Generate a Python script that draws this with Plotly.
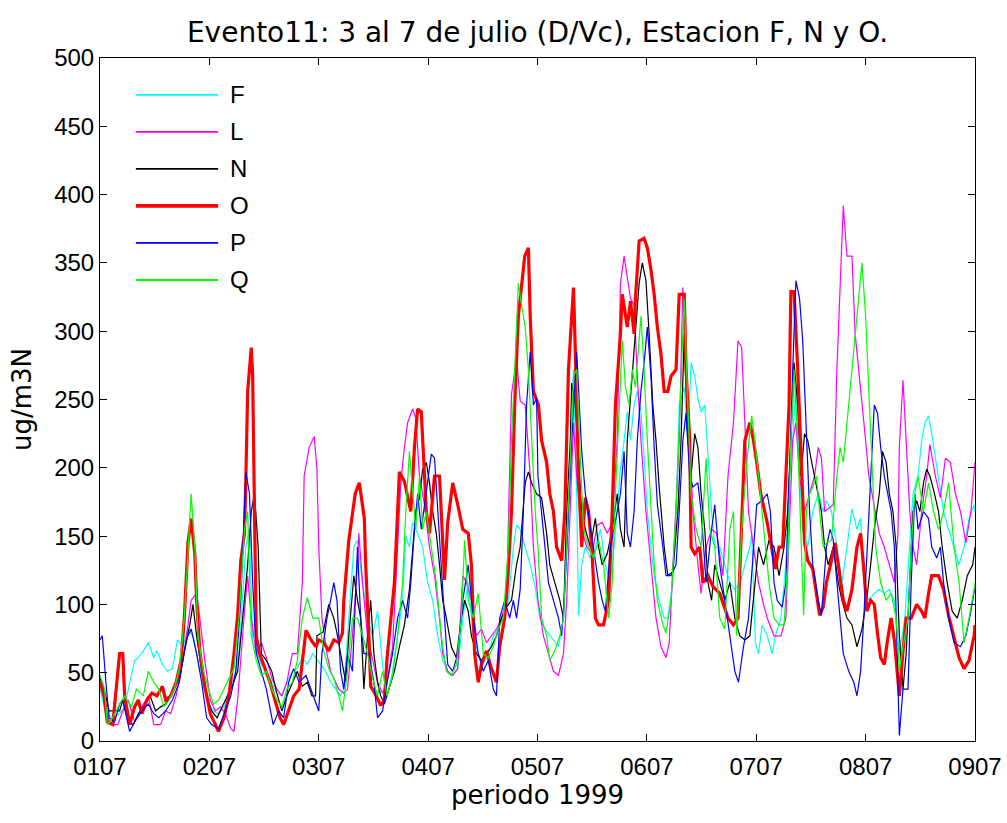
import plotly.graph_objects as go

# Hourly series for 1-9 July 1999 (x = hours since 01/07 00h)
day_ticks = [0, 24, 48, 72, 96, 120, 144, 168, 192]
day_labels = ["0107", "0207", "0307", "0407", "0507", "0607", "0707", "0807", "0907"]

f_hours = [0, 1.3, 2.8, 4.3, 5.4, 6.5, 7.6, 8.4, 9.5, 10.6, 11.8, 12.5, 13.7, 14.8, 15.9, 17.0, 18.2, 19.3, 20.4, 21.5, 22.7, 23.8, 24.9, 26.0, 27.2, 28.3, 29.4, 30.5, 31.3, 32.0, 32.8, 33.5, 34.3, 35.4, 36.5, 37.7, 38.8, 39.9, 41.0, 42.2, 43.3, 44.4, 45.5, 46.7, 48.4, 49.5, 50.6, 51.7, 52.8, 53.5, 54.6, 55.7, 56.5, 57.6, 58.7, 59.8, 60.9, 62.0, 63.0, 64.2, 65.3, 66.4, 67.1, 67.9, 68.6, 69.7, 70.8, 71.9, 73.0, 74.1, 75.2, 76.3, 77.4, 78.5, 79.6, 80.8, 81.9, 83.0, 84.1, 85.2, 86.3, 87.4, 88.5, 89.6, 90.7, 91.4, 92.2, 93.3, 94.4, 95.5, 96.5, 97.6, 98.7, 99.8, 100.6, 101.7, 102.4, 103.2, 103.9, 104.6, 105.0, 105.7, 106.5, 107.6, 108.7, 109.8, 110.9, 112.0, 112.8, 113.5, 114.2, 115.0, 115.7, 116.4, 117.2, 117.9, 118.7, 119.4, 120.1, 120.9, 121.6, 122.7, 123.8, 124.6, 125.7, 126.4, 127.1, 128.2, 129.0, 129.7, 130.5, 131.2, 131.9, 132.7, 133.4, 134.2, 134.9, 136.0, 137.1, 138.2, 139.3, 140.4, 141.5, 142.6, 143.0, 143.8, 144.5, 145.3, 146.4, 147.5, 148.2, 149.4, 150.5, 151.2, 152.0, 152.7, 153.5, 154.2, 155.3, 156.4, 157.6, 158.7, 159.4, 160.5, 161.7, 162.8, 163.9, 165.0, 166.1, 166.9, 167.6, 168.7, 169.9, 171.0, 172.1, 173.2, 174.3, 175.4, 176.6, 177.7, 178.4, 179.5, 180.3, 181.0, 181.8, 182.5, 183.3, 184.0, 185.1, 186.2, 187.4, 188.5, 189.6, 190.7, 191.8, 192.0]
f_vals = [38, 20, 17, 20, 25, 43, 59, 61, 66, 72, 61, 66, 56, 51, 53, 74, 69, 82, 77, 59, 40, 27, 22, 20, 25, 38, 46, 64, 103, 142, 155, 72, 66, 56, 51, 43, 35, 33, 43, 51, 53, 61, 56, 64, 56, 51, 43, 38, 33, 38, 90, 142, 147, 116, 90, 77, 95, 56, 33, 51, 77, 103, 150, 142, 160, 152, 142, 116, 103, 77, 59, 51, 48, 53, 90, 116, 77, 64, 56, 64, 77, 82, 90, 103, 142, 158, 155, 142, 129, 113, 90, 82, 77, 72, 69, 90, 142, 194, 272, 181, 92, 129, 142, 134, 142, 155, 129, 116, 142, 168, 199, 220, 241, 220, 246, 256, 241, 207, 168, 142, 121, 103, 90, 90, 116, 168, 246, 259, 220, 277, 267, 251, 241, 246, 207, 168, 142, 142, 129, 116, 111, 116, 129, 142, 152, 72, 64, 85, 77, 64, 77, 90, 129, 194, 220, 259, 194, 155, 142, 168, 181, 168, 176, 168, 142, 116, 142, 170, 155, 163, 116, 103, 108, 111, 108, 111, 103, 64, 90, 142, 181, 194, 220, 233, 238, 225, 207, 194, 168, 155, 142, 129, 142, 163, 173, 168]

l_hours = [0, 1.2, 2.4, 3.9, 5.0, 6.2, 7.6, 9.2, 10.6, 11.8, 13.3, 14.4, 15.5, 16.7, 17.8, 18.9, 20.0, 21.2, 21.9, 23.0, 24.2, 25.3, 26.4, 27.5, 28.7, 29.4, 30.2, 30.9, 31.7, 32.4, 33.2, 34.3, 35.4, 36.5, 37.7, 38.8, 39.9, 41.0, 42.2, 43.3, 44.4, 44.8, 45.9, 47.0, 47.6, 48.0, 48.7, 49.8, 50.6, 51.7, 52.4, 53.5, 54.3, 55.4, 56.5, 56.8, 57.6, 58.7, 59.8, 60.9, 62.0, 63.0, 64.2, 65.3, 66.0, 66.8, 67.5, 68.6, 69.3, 70.1, 71.2, 72.3, 73.4, 74.5, 75.2, 76.3, 77.4, 78.5, 79.6, 80.4, 81.5, 82.6, 83.7, 84.8, 85.9, 87.0, 88.1, 89.2, 90.3, 91.4, 92.2, 93.3, 94.4, 95.1, 96.1, 97.3, 98.4, 99.5, 100.6, 101.7, 102.4, 103.2, 103.9, 104.6, 105.7, 106.8, 108.0, 109.1, 110.2, 111.3, 112.4, 113.5, 114.2, 115.0, 115.7, 116.4, 117.2, 117.9, 118.7, 119.8, 120.9, 122.0, 123.1, 124.2, 124.9, 126.0, 127.1, 127.9, 128.6, 129.4, 130.1, 131.2, 131.9, 133.0, 134.2, 135.3, 136.7, 137.8, 139.0, 140.0, 140.8, 141.5, 142.3, 143.4, 144.5, 145.6, 146.4, 147.9, 149.4, 150.5, 151.2, 152.0, 152.7, 153.5, 154.6, 155.7, 156.8, 157.6, 158.3, 159.0, 159.8, 160.9, 161.7, 162.4, 163.1, 163.9, 165.0, 165.7, 166.5, 167.2, 168.0, 168.7, 169.9, 171.0, 172.1, 173.2, 174.3, 175.1, 175.4, 176.2, 176.9, 177.7, 178.4, 179.2, 180.3, 181.4, 182.1, 183.3, 184.4, 185.5, 186.6, 187.7, 188.8, 190.0, 191.1, 192.0]
l_vals = [48, 22, 12, 12, 22, 30, 14, 25, 33, 12, 12, 22, 20, 33, 51, 74, 103, 108, 90, 59, 30, 22, 25, 20, 9, 7, 30, 64, 95, 121, 90, 64, 72, 61, 46, 38, 33, 43, 64, 64, 116, 194, 215, 223, 200, 142, 90, 64, 51, 43, 38, 35, 38, 77, 129, 152, 116, 77, 59, 43, 35, 43, 69, 142, 189, 215, 233, 243, 236, 194, 173, 142, 121, 90, 64, 51, 48, 53, 121, 116, 103, 77, 82, 72, 77, 82, 90, 103, 254, 280, 249, 246, 194, 142, 103, 77, 64, 51, 48, 64, 103, 168, 233, 194, 155, 142, 137, 158, 160, 152, 160, 220, 335, 355, 340, 324, 319, 267, 220, 168, 129, 90, 69, 61, 72, 142, 220, 332, 272, 220, 168, 129, 108, 142, 155, 152, 121, 194, 233, 293, 288, 233, 168, 142, 116, 100, 90, 77, 77, 90, 155, 220, 233, 194, 168, 181, 194, 215, 207, 168, 170, 173, 272, 337, 392, 355, 355, 298, 272, 246, 220, 194, 173, 152, 142, 129, 116, 152, 215, 264, 220, 168, 142, 129, 168, 194, 217, 194, 178, 207, 204, 181, 168, 145, 168, 204]

n_hours = [0, 0.9, 2.0, 3.2, 4.3, 5.0, 6.2, 7.3, 8.4, 9.9, 11.0, 12.2, 13.3, 14.4, 15.9, 17.4, 18.5, 19.7, 20.4, 21.2, 22.3, 23.4, 24.5, 25.7, 26.8, 27.9, 29.0, 30.2, 31.3, 32.4, 33.2, 33.9, 34.7, 35.4, 36.5, 37.7, 38.8, 39.9, 41.0, 42.2, 43.3, 44.4, 45.5, 46.5, 47.3, 47.6, 49.0, 50.2, 51.3, 52.0, 53.2, 53.9, 54.6, 55.7, 56.5, 57.2, 57.9, 58.7, 59.4, 60.1, 60.9, 61.6, 62.4, 63.5, 64.6, 65.7, 66.8, 67.9, 68.6, 69.3, 70.1, 70.8, 71.6, 72.3, 73.0, 73.8, 74.5, 75.2, 76.0, 77.1, 78.2, 79.3, 80.0, 80.8, 81.5, 82.6, 83.7, 84.8, 85.9, 87.0, 88.1, 89.2, 90.3, 91.4, 92.2, 93.3, 94.0, 94.7, 95.8, 96.9, 98.0, 98.7, 99.8, 100.9, 101.7, 102.4, 103.2, 103.5, 104.3, 105.0, 105.7, 106.5, 107.6, 108.7, 109.4, 110.2, 111.3, 112.4, 113.5, 114.2, 115.0, 115.7, 116.8, 117.5, 118.3, 119.0, 119.8, 120.5, 121.3, 122.0, 122.7, 123.8, 124.6, 125.7, 126.8, 127.5, 128.2, 129.0, 129.7, 130.5, 131.2, 131.9, 132.7, 133.4, 134.2, 134.9, 136.0, 137.1, 138.2, 139.3, 140.4, 141.5, 142.6, 143.4, 144.5, 145.6, 146.8, 147.9, 149.0, 150.1, 150.9, 151.6, 152.3, 153.1, 153.8, 154.6, 155.3, 156.0, 156.8, 157.6, 158.3, 159.0, 159.8, 160.9, 162.0, 162.8, 163.9, 165.0, 166.1, 167.2, 168.4, 169.1, 169.9, 171.0, 171.7, 172.5, 173.2, 174.0, 174.7, 175.4, 176.2, 176.9, 177.7, 178.4, 179.2, 179.9, 180.7, 181.4, 182.1, 182.9, 184.0, 184.8, 185.9, 187.0, 188.1, 189.2, 190.3, 191.5, 192.0]
n_vals = [46, 38, 22, 22, 22, 30, 14, 12, 20, 27, 33, 22, 25, 27, 35, 46, 64, 85, 100, 77, 51, 33, 22, 17, 25, 33, 40, 51, 90, 129, 168, 181, 142, 64, 59, 51, 35, 22, 33, 43, 51, 40, 43, 33, 33, 77, 80, 100, 90, 79, 56, 43, 77, 121, 103, 90, 38, 77, 103, 64, 43, 33, 27, 40, 51, 69, 85, 111, 142, 168, 178, 199, 204, 189, 168, 152, 129, 103, 90, 69, 61, 90, 103, 95, 77, 64, 59, 64, 69, 77, 90, 98, 103, 129, 142, 189, 197, 189, 181, 178, 152, 129, 116, 103, 90, 168, 220, 262, 246, 207, 168, 155, 142, 163, 142, 129, 137, 155, 181, 155, 142, 220, 267, 298, 335, 350, 337, 298, 246, 220, 186, 142, 121, 124, 168, 220, 298, 220, 194, 225, 215, 181, 155, 116, 103, 129, 116, 103, 116, 90, 77, 74, 77, 103, 142, 129, 147, 142, 121, 142, 168, 220, 277, 246, 194, 225, 220, 207, 194, 181, 168, 142, 129, 142, 116, 103, 90, 85, 69, 82, 108, 129, 155, 181, 212, 204, 181, 168, 142, 77, 38, 64, 116, 168, 176, 168, 189, 199, 194, 184, 168, 142, 116, 95, 90, 103, 121, 129, 142]

o_hours = [0, 0.9, 1.6, 2.8, 4.3, 5.0, 5.4, 6.5, 7.6, 8.4, 9.2, 10.3, 11.4, 12.5, 13.7, 14.4, 15.5, 16.7, 17.8, 18.5, 19.3, 20.0, 20.8, 21.2, 21.9, 23.0, 24.2, 25.3, 26.0, 27.2, 28.3, 29.4, 30.2, 30.9, 31.7, 32.0, 32.4, 33.2, 33.5, 33.9, 34.3, 35.0, 36.2, 37.3, 38.4, 39.5, 40.3, 41.4, 42.5, 43.7, 44.4, 45.2, 46.3, 47.4, 48.0, 49.1, 50.2, 51.3, 52.4, 53.2, 53.5, 54.6, 56.0, 56.9, 58.0, 58.3, 59.0, 59.4, 60.3, 61.6, 62.4, 63.0, 64.6, 65.7, 66.8, 68.2, 69.0, 69.7, 70.5, 70.9, 71.6, 72.3, 73.4, 74.5, 75.2, 75.6, 76.3, 77.4, 78.5, 79.6, 80.8, 81.5, 82.2, 83.0, 83.7, 84.8, 85.9, 87.0, 87.7, 88.8, 89.5, 90.3, 91.0, 91.8, 93.2, 94.0, 94.4, 95.1, 96.2, 96.9, 98.0, 98.7, 99.5, 100.2, 101.3, 102.0, 102.8, 103.5, 103.9, 104.3, 105.0, 105.7, 106.5, 107.2, 107.9, 108.7, 109.4, 110.5, 111.6, 112.4, 113.1, 114.2, 114.6, 115.7, 116.4, 117.2, 117.5, 118.3, 119.4, 120.1, 120.9, 121.6, 122.3, 123.1, 123.8, 124.6, 125.3, 126.4, 127.1, 128.2, 128.6, 129.4, 129.7, 130.5, 131.6, 132.3, 133.4, 134.5, 136.0, 137.8, 139.0, 140.0, 140.8, 141.5, 142.6, 143.4, 144.1, 145.0, 146.4, 147.5, 148.2, 149.0, 149.8, 150.5, 151.2, 151.6, 152.3, 153.1, 153.8, 154.6, 155.3, 156.4, 157.2, 157.9, 158.7, 159.4, 160.5, 161.3, 162.0, 163.1, 163.9, 165.0, 166.1, 166.9, 167.6, 168.3, 169.1, 169.9, 170.6, 171.3, 172.1, 172.8, 173.6, 174.3, 175.0, 175.4, 176.2, 176.9, 178.0, 179.2, 180.3, 181.0, 181.8, 182.5, 184.0, 185.1, 186.2, 187.4, 188.5, 189.6, 190.7, 191.8, 192.0]
o_vals = [43, 33, 14, 12, 64, 64, 33, 12, 25, 30, 20, 30, 35, 33, 40, 30, 33, 43, 59, 90, 145, 163, 137, 103, 66, 40, 20, 12, 7, 17, 33, 64, 92, 132, 152, 191, 256, 288, 267, 168, 77, 64, 53, 43, 30, 17, 12, 22, 33, 38, 59, 81, 74, 69, 74, 72, 66, 74, 72, 79, 103, 147, 181, 189, 163, 129, 77, 40, 35, 26, 30, 61, 116, 197, 190, 168, 215, 243, 241, 210, 168, 152, 194, 194, 142, 118, 160, 189, 173, 155, 152, 129, 64, 43, 56, 66, 53, 43, 69, 90, 120, 168, 246, 311, 355, 361, 311, 256, 246, 220, 204, 181, 168, 142, 132, 168, 272, 316, 332, 285, 194, 142, 178, 168, 142, 90, 85, 85, 103, 168, 246, 298, 327, 303, 322, 298, 324, 366, 368, 361, 345, 327, 303, 283, 256, 256, 267, 272, 327, 327, 272, 220, 142, 137, 142, 116, 121, 113, 108, 90, 85, 90, 168, 220, 233, 220, 204, 181, 160, 137, 126, 142, 142, 194, 246, 329, 329, 272, 207, 145, 132, 126, 108, 92, 98, 116, 132, 145, 129, 103, 95, 111, 142, 152, 126, 95, 103, 100, 79, 61, 56, 74, 90, 74, 48, 33, 66, 90, 90, 100, 95, 90, 108, 121, 121, 111, 92, 77, 61, 53, 59, 77, 85]

p_hours = [0, 0.5, 1.3, 2.0, 3.2, 4.3, 5.0, 6.5, 7.6, 9.2, 10.6, 11.8, 12.9, 14.4, 15.9, 17.4, 18.9, 20.0, 21.2, 22.3, 23.4, 24.5, 26.0, 27.2, 28.7, 29.8, 30.9, 32.0, 32.8, 33.5, 34.3, 35.4, 36.5, 38.0, 39.2, 40.3, 41.4, 42.5, 43.7, 45.2, 46.3, 47.4, 48.0, 48.7, 49.8, 50.6, 51.3, 52.0, 52.8, 53.5, 54.3, 55.4, 56.5, 57.2, 57.9, 59.0, 60.1, 60.9, 62.0, 63.0, 64.2, 65.3, 66.4, 67.5, 68.2, 69.0, 69.7, 70.5, 71.6, 72.7, 73.4, 74.1, 74.9, 75.6, 76.3, 77.4, 78.5, 79.6, 80.8, 81.9, 83.0, 84.1, 85.2, 86.3, 87.0, 87.7, 88.8, 89.9, 90.7, 91.4, 92.2, 92.9, 93.6, 94.4, 95.1, 95.8, 96.1, 96.9, 97.6, 98.4, 99.5, 100.6, 101.3, 102.0, 102.8, 103.5, 104.6, 105.0, 105.7, 106.5, 107.6, 108.3, 109.4, 110.2, 110.9, 112.0, 112.8, 113.5, 114.2, 115.0, 115.7, 116.4, 117.2, 117.9, 118.7, 119.4, 120.1, 120.9, 121.6, 122.3, 123.5, 124.2, 125.3, 126.4, 127.1, 127.9, 128.6, 129.4, 130.1, 131.2, 131.9, 133.0, 134.2, 134.9, 136.0, 137.1, 138.2, 139.3, 140.1, 141.2, 142.3, 143.4, 144.1, 145.3, 146.4, 147.1, 147.9, 148.6, 149.7, 150.5, 151.2, 152.0, 152.7, 153.5, 154.2, 155.0, 155.7, 156.4, 157.6, 158.3, 159.4, 160.2, 160.9, 161.7, 162.4, 163.1, 164.3, 165.4, 166.1, 166.9, 167.6, 168.4, 169.1, 169.9, 170.6, 171.3, 172.1, 172.8, 173.6, 174.3, 175.0, 175.4, 176.2, 177.3, 178.0, 178.8, 179.5, 180.7, 181.8, 182.5, 183.6, 184.4, 185.1, 186.2, 187.4, 188.8, 190.0, 191.1, 192.0]
p_vals = [74, 77, 43, 17, 14, 27, 30, 7, 14, 22, 27, 20, 17, 22, 30, 43, 74, 82, 64, 43, 17, 12, 9, 20, 33, 51, 103, 197, 181, 116, 64, 51, 38, 12, 22, 17, 43, 53, 43, 48, 38, 27, 22, 64, 90, 103, 116, 103, 51, 38, 64, 51, 142, 90, 64, 64, 43, 17, 22, 43, 64, 90, 103, 90, 116, 155, 181, 155, 181, 210, 207, 168, 129, 90, 56, 51, 64, 103, 129, 90, 64, 51, 59, 38, 33, 90, 103, 90, 103, 90, 111, 168, 246, 285, 246, 251, 194, 168, 142, 116, 103, 90, 77, 111, 168, 220, 285, 259, 212, 181, 155, 142, 116, 103, 95, 142, 155, 168, 181, 212, 152, 142, 168, 220, 256, 277, 303, 267, 215, 173, 142, 121, 121, 129, 168, 220, 240, 194, 186, 189, 168, 116, 155, 173, 129, 103, 77, 51, 43, 69, 90, 142, 173, 176, 181, 168, 116, 103, 98, 116, 194, 272, 337, 324, 293, 220, 168, 129, 103, 92, 142, 155, 147, 116, 90, 64, 51, 43, 33, 51, 90, 142, 194, 246, 240, 215, 194, 181, 168, 142, 64, 4, 38, 38, 116, 181, 155, 168, 163, 142, 134, 142, 116, 90, 72, 69, 77, 95, 113]

q_hours = [0, 1.0, 1.6, 2.8, 4.3, 5.4, 6.9, 8.0, 9.5, 10.6, 11.8, 12.9, 14.0, 15.2, 16.3, 17.4, 18.5, 19.3, 20.0, 20.8, 21.5, 22.7, 23.8, 24.9, 26.0, 27.2, 28.3, 29.4, 30.5, 31.7, 32.4, 33.2, 34.3, 35.4, 36.5, 37.7, 38.8, 39.9, 41.0, 42.2, 43.3, 44.4, 45.5, 46.7, 48.0, 49.1, 50.2, 51.3, 52.4, 53.2, 54.3, 55.4, 56.5, 57.6, 58.7, 59.8, 60.9, 62.0, 63.0, 64.2, 65.3, 66.4, 67.1, 67.9, 68.6, 69.3, 70.1, 70.8, 71.6, 72.7, 73.8, 74.9, 76.0, 77.1, 78.2, 79.3, 80.0, 80.8, 81.9, 83.0, 84.1, 85.2, 86.3, 87.4, 88.5, 89.6, 90.3, 91.0, 91.8, 92.5, 93.3, 94.0, 94.7, 95.5, 96.1, 96.9, 98.0, 98.7, 99.8, 100.9, 101.7, 102.4, 103.2, 103.9, 104.6, 105.4, 106.1, 107.2, 108.3, 109.4, 110.5, 111.6, 112.4, 113.1, 113.8, 114.6, 115.3, 116.1, 116.8, 117.5, 118.7, 119.4, 120.1, 120.9, 121.6, 122.3, 123.5, 124.2, 125.3, 126.4, 127.5, 128.2, 129.0, 129.7, 130.8, 131.9, 133.0, 133.8, 134.9, 136.0, 137.1, 138.2, 139.0, 139.7, 140.8, 142.0, 143.0, 143.7, 144.5, 145.6, 146.8, 147.9, 149.0, 150.1, 150.9, 151.6, 152.3, 153.1, 153.8, 154.4, 155.0, 155.7, 156.4, 157.2, 157.9, 158.7, 159.4, 160.5, 161.7, 162.4, 163.1, 163.9, 164.6, 165.4, 166.1, 166.9, 167.2, 168.0, 168.7, 169.5, 170.2, 171.3, 172.5, 173.6, 174.7, 175.4, 176.2, 177.3, 178.0, 178.8, 179.5, 180.7, 181.8, 182.9, 184.0, 185.1, 186.2, 187.4, 188.5, 189.6, 190.7, 191.8, 192.0]
q_vals = [48, 38, 12, 17, 27, 33, 25, 38, 33, 51, 43, 38, 25, 30, 38, 53, 90, 142, 181, 142, 77, 51, 38, 27, 30, 38, 46, 53, 90, 155, 168, 77, 59, 48, 51, 38, 30, 25, 38, 43, 59, 90, 105, 90, 90, 66, 53, 46, 33, 22, 51, 90, 90, 77, 64, 46, 33, 51, 33, 48, 77, 116, 168, 212, 181, 155, 194, 155, 168, 142, 116, 77, 51, 48, 56, 90, 147, 103, 90, 108, 64, 61, 69, 82, 90, 142, 220, 272, 335, 319, 303, 272, 220, 168, 142, 90, 77, 59, 66, 77, 90, 142, 207, 267, 272, 207, 155, 142, 134, 147, 129, 90, 116, 181, 233, 293, 259, 246, 272, 259, 311, 272, 220, 168, 129, 103, 85, 79, 103, 168, 272, 324, 246, 181, 155, 142, 207, 155, 142, 90, 82, 155, 168, 77, 155, 207, 238, 220, 194, 155, 116, 90, 85, 85, 129, 220, 272, 220, 142, 92, 168, 181, 186, 194, 168, 142, 145, 147, 194, 215, 204, 233, 259, 285, 311, 337, 350, 311, 259, 194, 142, 116, 103, 108, 90, 51, 69, 90, 142, 181, 194, 168, 189, 168, 155, 168, 189, 142, 116, 72, 90, 111, 116]

stations = [
    ("F", f_hours, f_vals, "#00FFFF", 1.2),
    ("L", l_hours, l_vals, "#FF00FF", 1.2),
    ("N", n_hours, n_vals, "#000000", 1.2),
    ("O", o_hours, o_vals, "#FF0000", 3.2),
    ("P", p_hours, p_vals, "#0000FF", 1.2),
    ("Q", q_hours, q_vals, "#00FF00", 1.2),
]

TICK_FONT = "Liberation Sans, Arial, sans-serif"
TEXT_FONT = "DejaVu Sans, Liberation Sans, sans-serif"

fig = go.Figure()
for name, hrs, vals, color, width in stations:
    fig.add_trace(go.Scatter(
        x=hrs, y=vals, mode="lines", name=name,
        line=dict(color=color, width=width), showlegend=False,
    ))

# Legend box in the upper-left corner of the axes: long line samples with labels
legend_top = 0.946      # axes fraction of the first entry
legend_step = 0.0542    # vertical spacing between entries
sample_x0, sample_x1, label_x = 0.041, 0.135, 0.146
shapes, annotations = [], []
for i, (name, _, _, color, width) in enumerate(stations):
    ypos = legend_top - i * legend_step
    shapes.append(dict(type="line", xref="paper", yref="paper",
                       x0=sample_x0, x1=sample_x1, y0=ypos, y1=ypos,
                       line=dict(color=color, width=width + 0.6)))
    annotations.append(dict(text=name, xref="paper", yref="paper",
                            x=label_x, y=ypos, xanchor="left", yanchor="middle",
                            showarrow=False,
                            font=dict(family=TICK_FONT, size=24, color="#000000")))

fig.update_layout(
    width=1007, height=823,
    margin=dict(l=100, r=32, t=58, b=82, autoexpand=False),
    paper_bgcolor="#FFFFFF", plot_bgcolor="#FFFFFF",
    font=dict(family=TICK_FONT, size=24, color="#000000"),
    title=dict(text="Evento11: 3 al 7 de julio (D/Vc), Estacion F, N y O.",
               xref="paper", x=0.5, xanchor="center",
               yref="container", y=0.961, yanchor="middle",
               font=dict(family=TEXT_FONT, size=28, color="#000000")),
    shapes=shapes,
    annotations=annotations,
    showlegend=False,
)

fig.update_xaxes(
    range=[0, 192], tickmode="array", tickvals=day_ticks, ticktext=day_labels,
    ticks="inside", ticklen=7, tickwidth=1, tickcolor="#000000",
    ticklabelstandoff=4, automargin=False,
    tickfont=dict(family=TICK_FONT, size=24, color="#000000"),
    showline=True, linecolor="#000000", linewidth=1, mirror="ticks",
    showgrid=False, zeroline=False,
    title=dict(text="periodo 1999", standoff=4,
               font=dict(family=TEXT_FONT, size=26, color="#000000")),
)
fig.update_yaxes(
    range=[0, 500], tickmode="linear", tick0=0, dtick=50,
    ticks="inside", ticklen=7, tickwidth=1, tickcolor="#000000",
    automargin=False,
    tickfont=dict(family=TICK_FONT, size=24, color="#000000"),
    showline=True, linecolor="#000000", linewidth=1, mirror="ticks",
    showgrid=False, zeroline=False,
    title=dict(text="ug/m3N", standoff=15,
               font=dict(family=TEXT_FONT, size=26, color="#000000")),
)

fig.write_html("out.html")
